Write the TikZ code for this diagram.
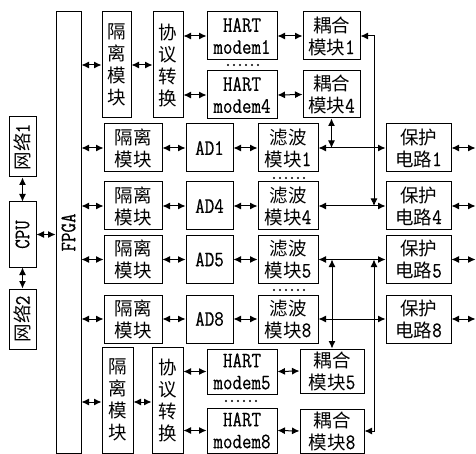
\documentclass[tikz,border=0pt]{standalone}
\usepackage{fontspec}
\setmainfont{Latin Modern Mono}[FakeStretch=0.84,FakeBold=0.5]
\newfontfamily\cjk{Noto Sans CJK SC}
\newcommand\zh[1]{{\cjk\fontsize{18.5}{22}\selectfont #1}}
\usetikzlibrary{arrows.meta}
\begin{document}
\begin{tikzpicture}[x=1pt,y=-1pt,
  box/.style={draw, line width=1pt, inner sep=0pt, align=center, font=\fontsize{22}{22}\selectfont},
  dbl/.style={{Latex[length=7.5pt,width=7pt]}-{Latex[length=7.5pt,width=7pt]}, line width=1pt},
  dotm/.style={fill=black}]
\useasboundingbox (0,0) rectangle (476,454);
% left column
\node[box, minimum width=27pt, minimum height=60pt] (net1) at (22.5,147) {\rotatebox{90}{\zh{网络}1}};
\node[box, minimum width=27pt, minimum height=65pt] (cpu) at (22.5,234.5) {\rotatebox{90}{CPU}};
\node[box, minimum width=27pt, minimum height=60pt] (net2) at (22.5,319) {\rotatebox{90}{\zh{网络}2}};
\node[box, minimum width=25pt, minimum height=441pt] (fpga) at (68.5,232.5) {\rotatebox{90}{FPGA}};
% top HART group
\node[box, minimum width=29pt, minimum height=106pt] (isoT) at (116.5,65) {\zh{隔}\\\zh{离}\\\zh{模}\\\zh{块}};
\node[box, minimum width=30pt, minimum height=106pt] (protT) at (168,65) {\zh{协}\\\zh{议}\\\zh{转}\\\zh{换}};
\node[box, minimum width=70pt, minimum height=48pt] (hart1) at (242,36) {HART\\modem1};
\node[box, minimum width=70pt, minimum height=48pt] (hart4) at (242,95) {HART\\modem4};
\node[box, minimum width=57pt, minimum height=48pt] (cpl1) at (331.5,36) {\zh{耦合}\\\zh{模块}1};
\node[box, minimum width=57pt, minimum height=47pt] (cpl4) at (331.5,94.5) {\zh{耦合}\\\zh{模块}4};
% AD rows
\foreach \n/\y/\h in {1/148/48, 4/206/48, 5/259.5/47, 8/319/48}{
  \node[box, minimum width=58pt, minimum height=\h pt] (iso\n) at (133,\y) {\zh{隔离}\\\zh{模块}};
  \node[box, minimum width=47pt, minimum height=\h pt] (ad\n) at (209.5,\y) {AD\n};
  \node[box, minimum width=60pt, minimum height=\h pt] (flt\n) at (288,\y) {\zh{滤波}\\\zh{模块}\n};
  \node[box, minimum width=65pt, minimum height=\h pt] (prt\n) at (418.5,\y) {\zh{保护}\\\zh{电路}\n};
  \coordinate (out\n) at (475.5,\y);
  \draw[dbl] (fpga.east |- iso\n.west) -- (iso\n.west);
  \draw[dbl] (iso\n.east) -- (ad\n.west);
  \draw[dbl] (ad\n.east) -- (flt\n.west);
  \draw[dbl] (flt\n.east) -- (prt\n.west);
  \draw[dbl] (prt\n.east) -- (out\n);
}
% bottom HART group
\node[box, minimum width=31pt, minimum height=106pt] (isoB) at (117.5,400) {\zh{隔}\\\zh{离}\\\zh{模}\\\zh{块}};
\node[box, minimum width=31pt, minimum height=106pt] (protB) at (167.5,400) {\zh{协}\\\zh{议}\\\zh{转}\\\zh{换}};
\node[box, minimum width=70pt, minimum height=45pt] (hart5) at (242,371.5) {HART\\modem5};
\node[box, minimum width=70pt, minimum height=45pt] (hart8) at (242,430.5) {HART\\modem8};
\node[box, minimum width=64pt, minimum height=44pt] (cpl5) at (332,371) {\zh{耦合}\\\zh{模块}5};
\node[box, minimum width=64pt, minimum height=44pt] (cpl8) at (332,431) {\zh{耦合}\\\zh{模块}8};
% left connectors
\draw[dbl] (net1.south) -- (cpu.north);
\draw[dbl] (cpu.south) -- (net2.north);
\draw[dbl] (cpu.east) -- (fpga.west |- cpu.east);
% top group connectors
\draw[dbl] (fpga.east |- isoT.west) -- (isoT.west);
\draw[dbl] (isoT.east) -- (protT.west);
\draw[dbl] (protT.east |- hart1.west) -- (hart1.west);
\draw[dbl] (protT.east |- hart4.west) -- (hart4.west);
\draw[dbl] (hart1.east) -- (cpl1.west);
\draw[dbl] (hart4.east) -- (cpl4.west);
% bottom group connectors
\draw[dbl] (fpga.east |- 0,402) -- (isoB.west |- 0,402);
\draw[dbl] (isoB.east |- 0,402) -- (protB.west |- 0,402);
\draw[dbl] (protB.east |- hart5.west) -- (hart5.west);
\draw[dbl] (protB.east |- hart8.west) -- (hart8.west);
\draw[dbl] (hart5.east) -- (cpl5.west);
\draw[dbl] (hart8.east) -- (cpl8.west);
% vertical links
\coordinate (v2) at (374,206);
\coordinate (v4) at (374,259.5);
\draw[dbl] (cpl4.south) -- (cpl4.south |- flt1.east);
\draw[dbl] (cpl1.east) -| (v2);
\draw[dbl] (cpl5.north |- flt5.east) -- (cpl5.north);
\draw[dbl] (cpl8.east) -| (v4);
% ellipsis dots
\foreach \x/\y in {228/65, 274/178, 274/290, 226/401}{
  \foreach \i in {0,...,5} \fill[dotm] (\x+\i*6, \y) circle (1.1pt);
}
\end{tikzpicture}
\end{document}
